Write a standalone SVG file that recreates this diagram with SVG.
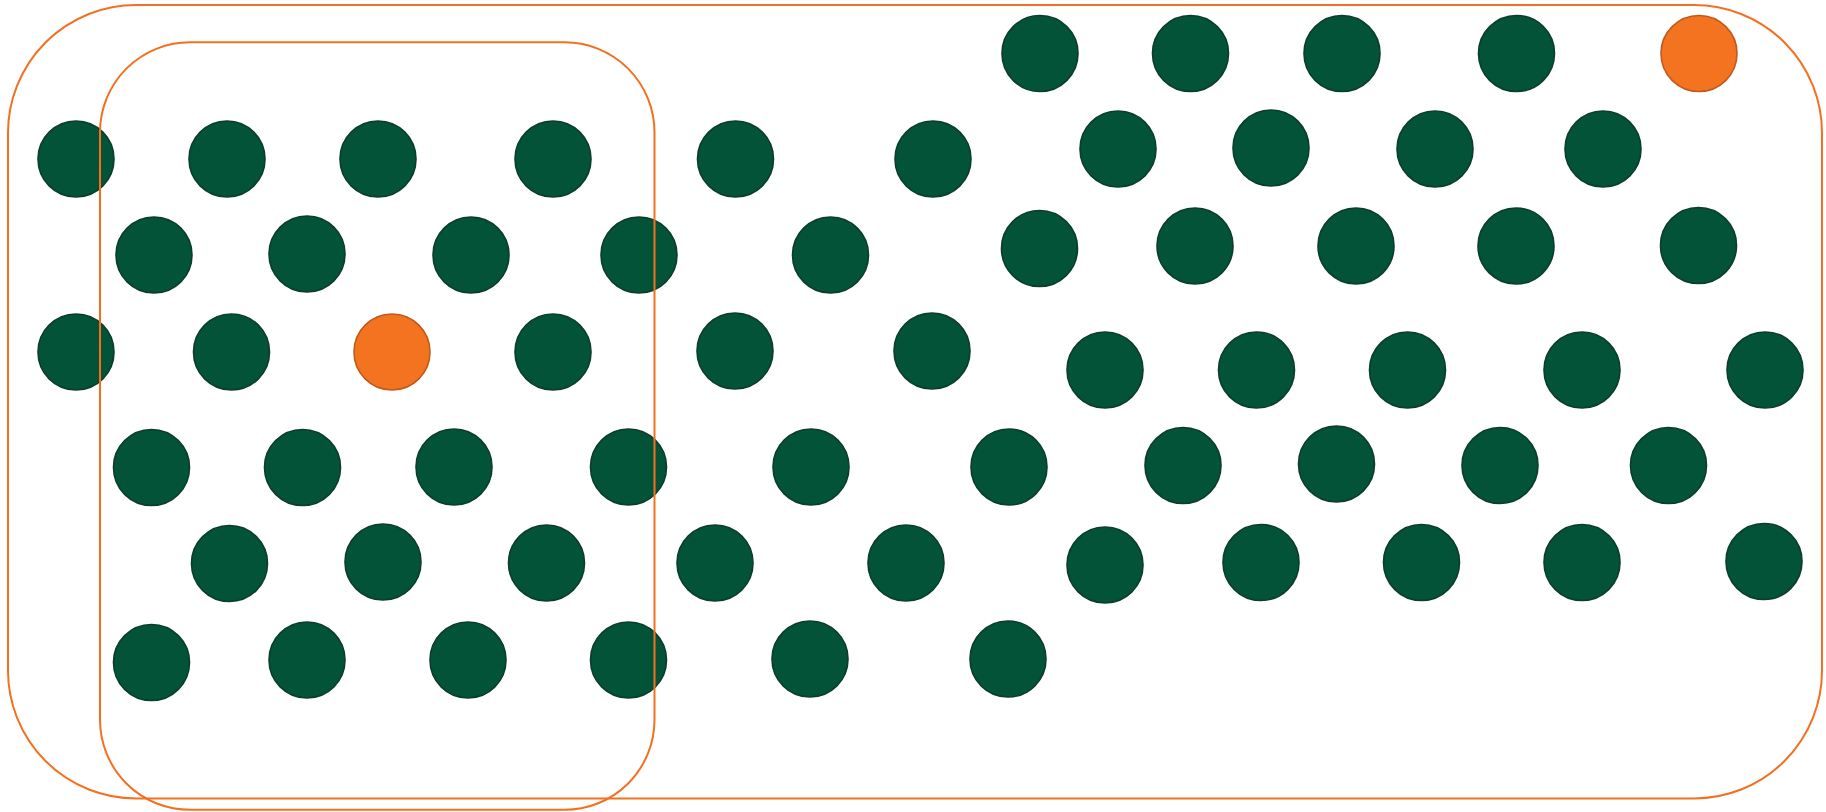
<svg xmlns="http://www.w3.org/2000/svg" width="1826" height="812" viewBox="0 0 1826 812">
<style>
.g{fill:#025337;stroke:#0b3d2a;stroke-width:1.6}
.o{fill:#f37321;stroke:#bf5a1b;stroke-width:1.6}
.box{fill:none;stroke:#f37021;stroke-width:2}
</style>
<rect width="1826" height="812" fill="#ffffff"/>
<g id="nodes">
<g id="n1"><circle class="g" cx="76" cy="159" r="38"/></g>
<g id="n2"><circle class="g" cx="227" cy="159" r="38"/></g>
<g id="n3"><circle class="g" cx="378" cy="159" r="38"/></g>
<g id="n4"><circle class="g" cx="553" cy="159" r="38"/></g>
<g id="n5"><circle class="g" cx="735.5" cy="159" r="38"/></g>
<g id="n6"><circle class="g" cx="933" cy="159" r="38"/></g>
<g id="n7"><circle class="g" cx="154" cy="255" r="38"/></g>
<g id="n8"><circle class="g" cx="307" cy="254" r="38"/></g>
<g id="n9"><circle class="g" cx="471" cy="255" r="38"/></g>
<g id="n10"><circle class="g" cx="639" cy="255" r="38"/></g>
<g id="n11"><circle class="g" cx="830.5" cy="255" r="38"/></g>
<g id="n12"><circle class="g" cx="76" cy="352" r="38"/></g>
<g id="n13"><circle class="g" cx="231.5" cy="352" r="38"/></g>
<g id="n14"><circle class="o" cx="392" cy="352" r="38"/></g>
<g id="n15"><circle class="g" cx="553" cy="352" r="38"/></g>
<g id="n16"><circle class="g" cx="735" cy="351" r="38"/></g>
<g id="n17"><circle class="g" cx="932" cy="351" r="38"/></g>
<g id="n18"><circle class="g" cx="151.5" cy="467.5" r="38"/></g>
<g id="n19"><circle class="g" cx="302.5" cy="467.5" r="38"/></g>
<g id="n20"><circle class="g" cx="454" cy="467" r="38"/></g>
<g id="n21"><circle class="g" cx="628.5" cy="467" r="38"/></g>
<g id="n22"><circle class="g" cx="811" cy="467" r="38"/></g>
<g id="n23"><circle class="g" cx="1009" cy="467" r="38"/></g>
<g id="n24"><circle class="g" cx="229.5" cy="563.5" r="38"/></g>
<g id="n25"><circle class="g" cx="383" cy="562" r="38"/></g>
<g id="n26"><circle class="g" cx="546.5" cy="563" r="38"/></g>
<g id="n27"><circle class="g" cx="715" cy="563" r="38"/></g>
<g id="n28"><circle class="g" cx="906" cy="563" r="38"/></g>
<g id="n29"><circle class="g" cx="151.5" cy="662.5" r="38"/></g>
<g id="n30"><circle class="g" cx="307" cy="660" r="38"/></g>
<g id="n31"><circle class="g" cx="468" cy="660" r="38"/></g>
<g id="n32"><circle class="g" cx="628.5" cy="660" r="38"/></g>
<g id="n33"><circle class="g" cx="810" cy="659" r="38"/></g>
<g id="n34"><circle class="g" cx="1008" cy="659" r="38"/></g>
<g id="n35"><circle class="g" cx="1040" cy="53.5" r="38"/></g>
<g id="n36"><circle class="g" cx="1190.5" cy="53.5" r="38"/></g>
<g id="n37"><circle class="g" cx="1342" cy="53.5" r="38"/></g>
<g id="n38"><circle class="g" cx="1516.5" cy="53.5" r="38"/></g>
<g id="n39"><circle class="o" cx="1699" cy="53.5" r="38"/></g>
<g id="n40"><circle class="g" cx="1118" cy="149" r="38"/></g>
<g id="n41"><circle class="g" cx="1271" cy="148" r="38"/></g>
<g id="n42"><circle class="g" cx="1435" cy="149" r="38"/></g>
<g id="n43"><circle class="g" cx="1603" cy="149" r="38"/></g>
<g id="n44"><circle class="g" cx="1039.5" cy="248.5" r="38"/></g>
<g id="n45"><circle class="g" cx="1195" cy="246" r="38"/></g>
<g id="n46"><circle class="g" cx="1356" cy="246" r="38"/></g>
<g id="n47"><circle class="g" cx="1516" cy="246" r="38"/></g>
<g id="n48"><circle class="g" cx="1698.5" cy="245.5" r="38"/></g>
<g id="n49"><circle class="g" cx="1105" cy="370" r="38"/></g>
<g id="n50"><circle class="g" cx="1256.5" cy="370" r="38"/></g>
<g id="n51"><circle class="g" cx="1407.5" cy="370" r="38"/></g>
<g id="n52"><circle class="g" cx="1582" cy="370" r="38"/></g>
<g id="n53"><circle class="g" cx="1765" cy="370" r="38"/></g>
<g id="n54"><circle class="g" cx="1183" cy="465.5" r="38"/></g>
<g id="n55"><circle class="g" cx="1336.5" cy="464" r="38"/></g>
<g id="n56"><circle class="g" cx="1500" cy="465.5" r="38"/></g>
<g id="n57"><circle class="g" cx="1668.5" cy="465.5" r="38"/></g>
<g id="n58"><circle class="g" cx="1105" cy="565" r="38"/></g>
<g id="n59"><circle class="g" cx="1261" cy="562.5" r="38"/></g>
<g id="n60"><circle class="g" cx="1421.5" cy="562.5" r="38"/></g>
<g id="n61"><circle class="g" cx="1582" cy="562.5" r="38"/></g>
<g id="n62"><circle class="g" cx="1764" cy="561.5" r="38"/></g>
</g>
<g id="outer-box"><rect class="box" x="8" y="5" width="1814" height="793.5" rx="128" ry="128"/></g>
<g id="inner-box"><rect class="box" x="100" y="42.3" width="554.5" height="767.5" rx="90" ry="90"/></g>
<g id="connectors"></g>
</svg>
